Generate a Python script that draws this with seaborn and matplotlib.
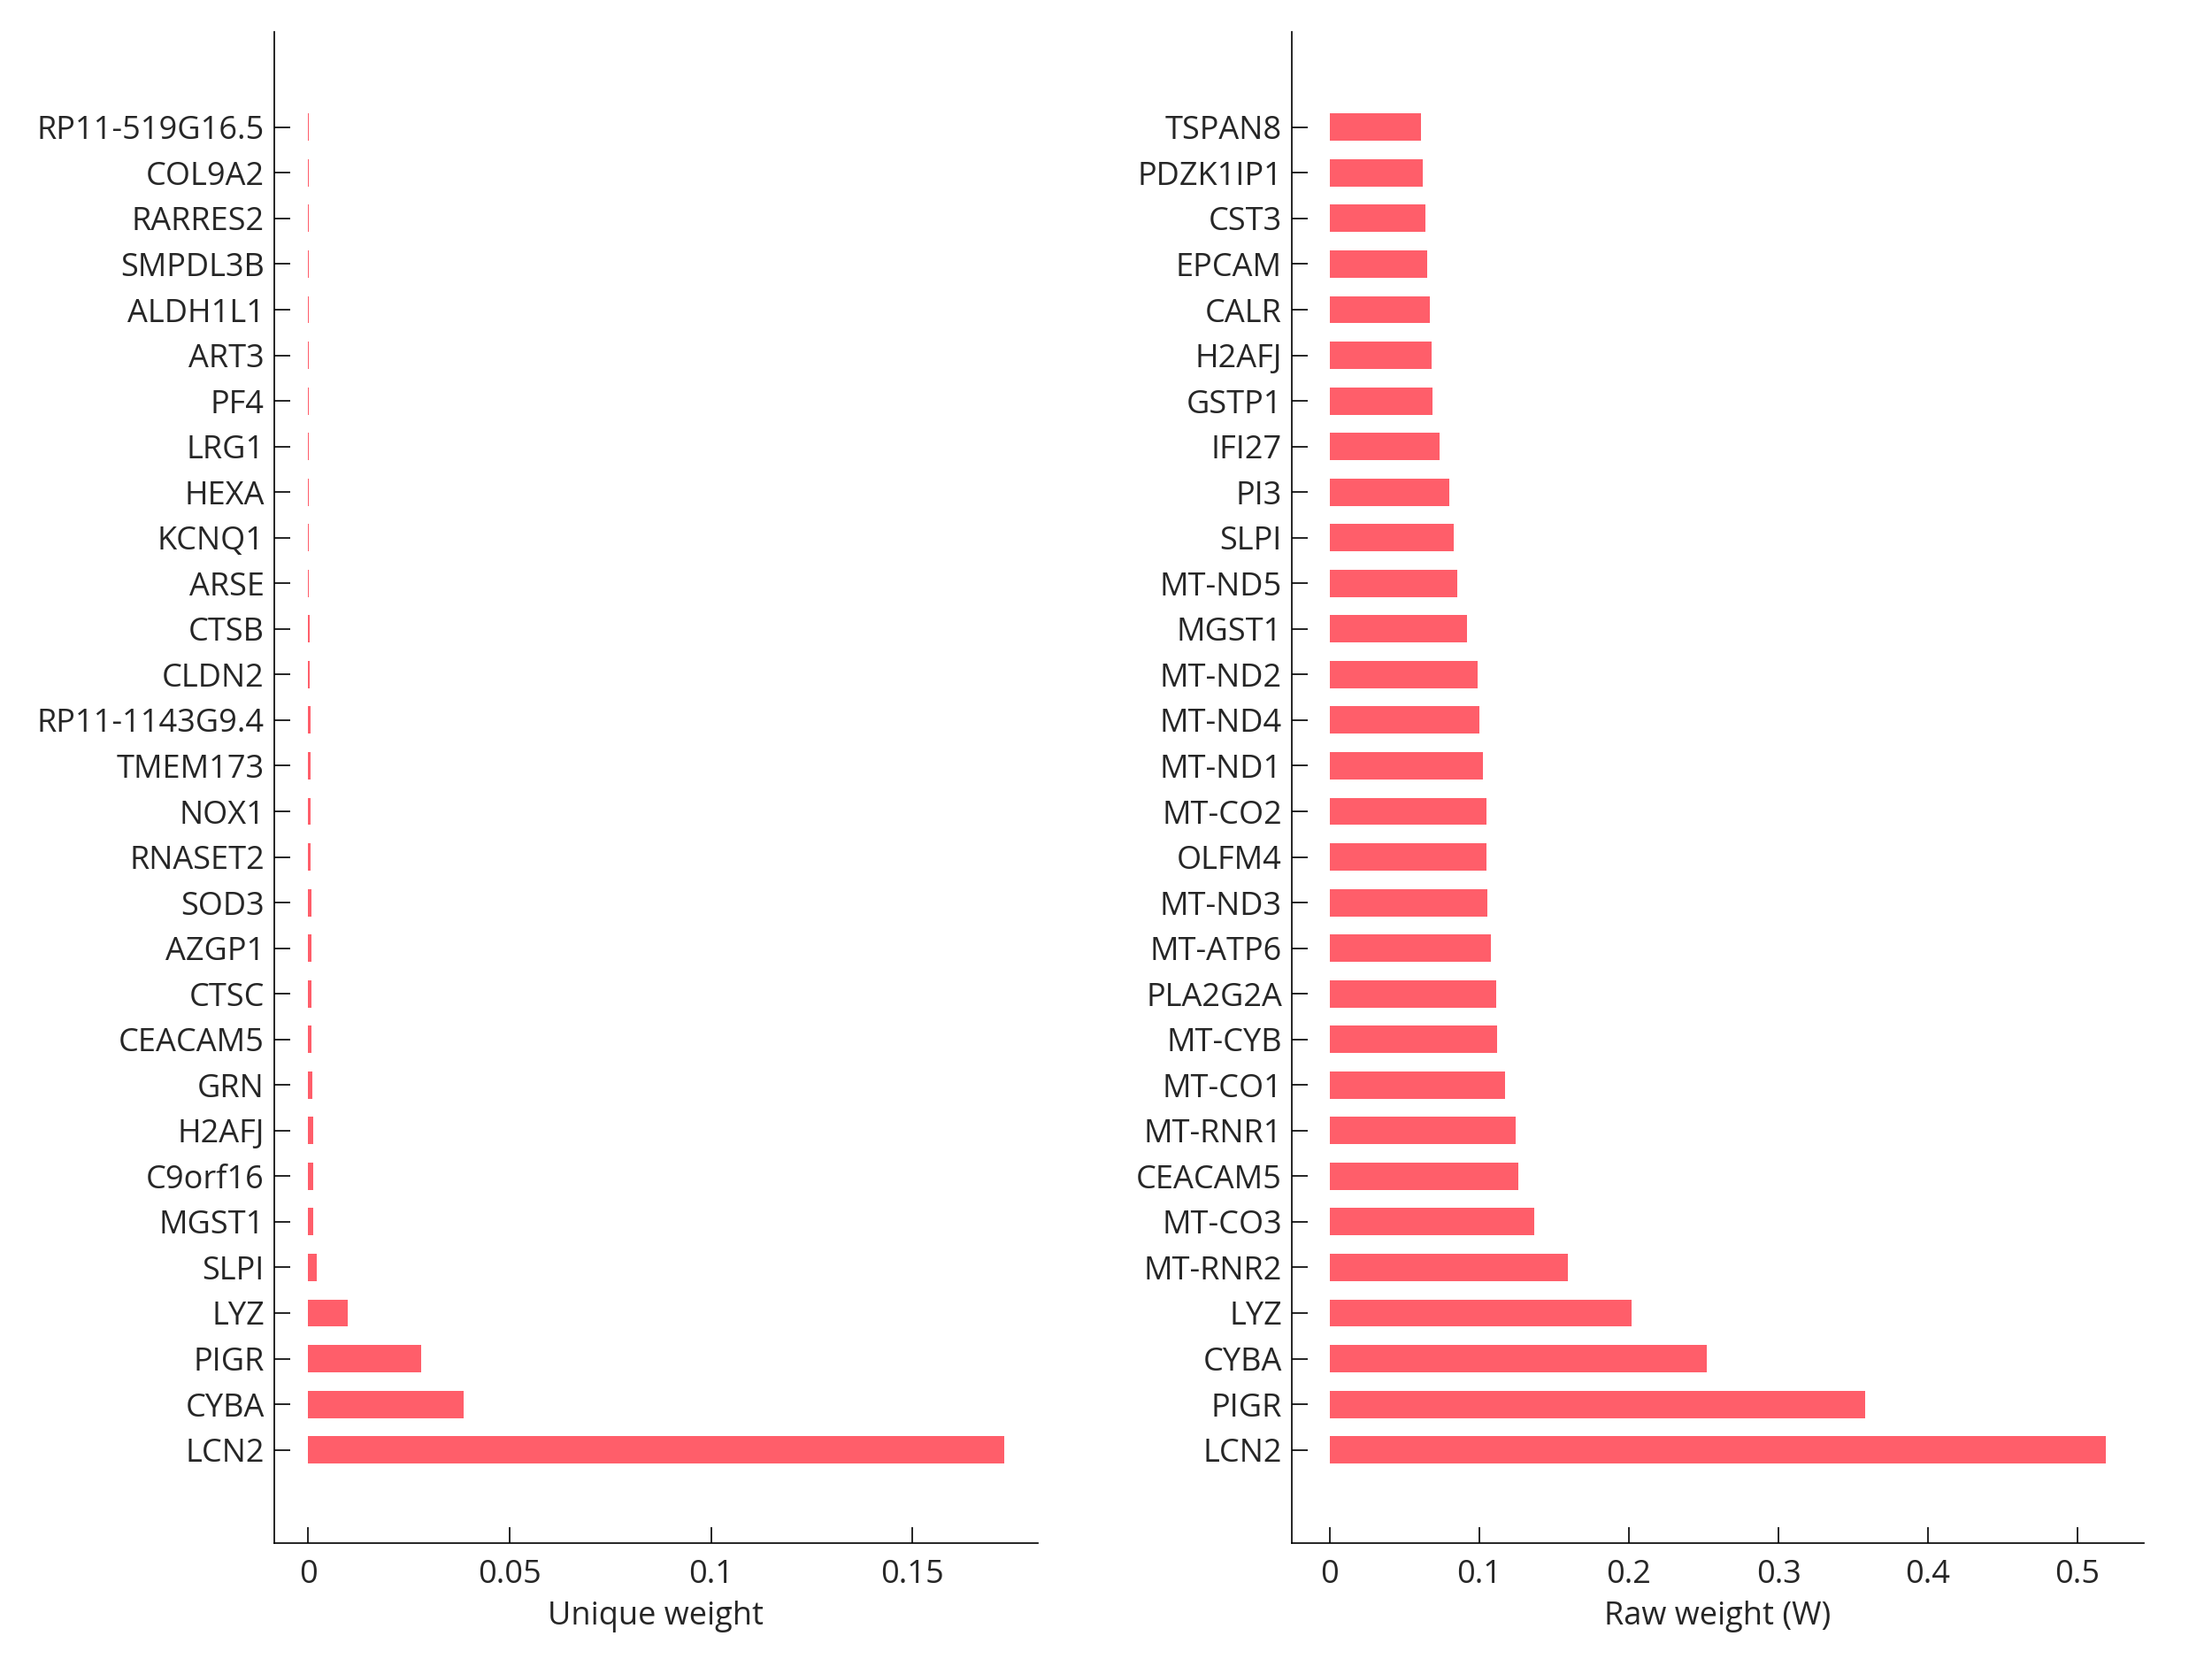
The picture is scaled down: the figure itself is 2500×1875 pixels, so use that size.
import numpy as np
import pandas as pd
import matplotlib
matplotlib.use("Agg")
import matplotlib.pyplot as plt
from matplotlib.ticker import FuncFormatter
import seaborn as sns

# data (top to bottom)
unique_genes = ['RP11-519G16.5', 'COL9A2', 'RARRES2', 'SMPDL3B', 'ALDH1L1', 'ART3',
                'PF4', 'LRG1', 'HEXA', 'KCNQ1', 'ARSE', 'CTSB', 'CLDN2', 'RP11-1143G9.4',
                'TMEM173', 'NOX1', 'RNASET2', 'SOD3', 'AZGP1', 'CTSC', 'CEACAM5', 'GRN',
                'H2AFJ', 'C9orf16', 'MGST1', 'SLPI', 'LYZ', 'PIGR', 'CYBA', 'LCN2']
unique_weight = [0.00010, 0.00011, 0.00012, 0.00013, 0.00014, 0.00015,
                 0.00016, 0.00018, 0.00020, 0.00022, 0.00026, 0.00035, 0.00045, 0.00050,
                 0.00055, 0.00060, 0.00070, 0.00075, 0.00080, 0.00085, 0.00090, 0.0011,
                 0.0012, 0.0012, 0.0013, 0.0021, 0.0098, 0.0280, 0.0386, 0.1728]

raw_genes = ['TSPAN8', 'PDZK1IP1', 'CST3', 'EPCAM', 'CALR', 'H2AFJ', 'GSTP1', 'IFI27',
             'PI3', 'SLPI', 'MT-ND5', 'MGST1', 'MT-ND2', 'MT-ND4', 'MT-ND1', 'MT-CO2',
             'OLFM4', 'MT-ND3', 'MT-ATP6', 'PLA2G2A', 'MT-CYB', 'MT-CO1', 'MT-RNR1',
             'CEACAM5', 'MT-CO3', 'MT-RNR2', 'LYZ', 'CYBA', 'PIGR', 'LCN2']
raw_weight = [0.061, 0.062, 0.064, 0.065, 0.0668, 0.068, 0.0687, 0.0735,
              0.080, 0.083, 0.0855, 0.092, 0.099, 0.100, 0.1025, 0.1045,
              0.105, 0.1055, 0.108, 0.111, 0.112, 0.117, 0.124,
              0.126, 0.1365, 0.159, 0.2015, 0.252, 0.358, 0.519]

bar_color = '#ff5e6a'

sns.set_style('ticks')
plt.rcParams['font.family'] = ['Open Sans', 'DejaVu Sans']
plt.rcParams['font.size'] = 13

fig = plt.figure(figsize=(12.5, 9.375), dpi=200)
ax1 = fig.add_axes([0.124, 0.070, 0.345, 0.911])
ax2 = fig.add_axes([0.584, 0.070, 0.385, 0.911])

df_u = pd.DataFrame({'gene': unique_genes, 'w': unique_weight})
df_r = pd.DataFrame({'gene': raw_genes, 'w': raw_weight})

sns.barplot(data=df_u, x='w', y='gene', orient='h', color=bar_color,
            width=0.6, linewidth=0, saturation=1, ax=ax1)
sns.barplot(data=df_r, x='w', y='gene', orient='h', color=bar_color,
            width=0.6, linewidth=0, saturation=1, ax=ax2)

fmt = FuncFormatter(lambda v, p: '%g' % round(v, 4))

ax1.set_xlim(-0.0084, 0.181)
ax1.set_xticks([0, 0.05, 0.1, 0.15])
ax1.set_xlabel('Unique weight', labelpad=4)

ax2.set_xlim(-0.0254, 0.544)
ax2.set_xticks([0, 0.1, 0.2, 0.3, 0.4, 0.5])
ax2.set_xlabel('Raw weight (W)', labelpad=4)

for ax in (ax1, ax2):
    ax.set_ylim(31.04, -2.1)
    ax.set_ylabel('')
    ax.xaxis.set_major_formatter(fmt)
    ax.tick_params(direction='in', length=6.5, width=0.6, color='black',
                   labelsize=13)
    ax.tick_params(axis='y', pad=4)
    ax.tick_params(axis='x', pad=6.5)
    for s in ('top', 'right'):
        ax.spines[s].set_visible(False)
    for s in ('left', 'bottom'):
        ax.spines[s].set_linewidth(0.6)
        ax.spines[s].set_color('black')

fig.savefig('out.png', dpi=200, facecolor='white')
